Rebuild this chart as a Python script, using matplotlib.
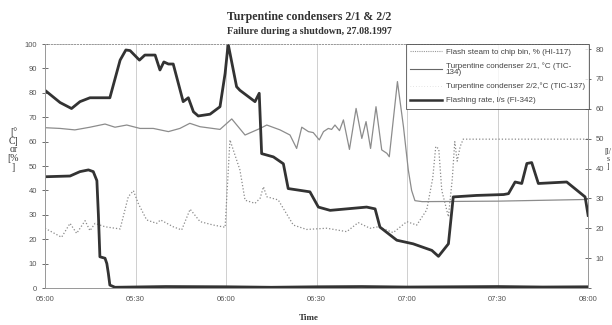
import matplotlib
matplotlib.use("Agg")
import matplotlib.pyplot as plt
from matplotlib.lines import Line2D

# minutes after 05:00
flash_t = [0, 5.5, 8.3, 10.5, 13.3, 14.9, 16.6, 19.9, 24.9, 27.6, 29.3, 30.9, 33.7, 37, 38.3,
           42.5, 45.3, 48.1, 51.4, 55.8, 59.7, 61.3, 64.6, 66.3, 69.6, 71.3, 72.4, 73.5, 77.3,
           82.3, 86.7, 93.4, 100, 103.8, 107.7, 110.5, 115.4, 119.9, 123.2, 126.5, 128.5, 129.5,
           130.5, 131.5, 133.7, 135.0, 135.8, 136.6, 137.6, 138.6, 180]
flash_v = [24.5, 20.8, 26.5, 22.4, 27.6, 23.5, 26.5, 25.1, 24.2, 37.4, 39.9, 34.7, 27.9, 26.5, 27.9,
           25.1, 23.8, 32.3, 27.2, 25.8, 24.9, 60.7, 48.4, 36.0, 34.7, 36.8, 41.5, 37.4, 36.1,
           25.8, 24.0, 24.5, 23.1, 26.8, 24.5, 25.1, 22.7, 27.2, 25.8, 32.0, 45.0, 58.0,
           57.0, 40.0, 29.2, 45.0, 60.0, 52.0, 58.0, 61.0, 61.0]

tic134_t = [0, 5, 9.9, 14.9, 19.9, 23.2, 27.1, 31.5, 35.9, 40.9, 44.7, 48, 51.4, 58, 61.9, 66.3,
            71.3, 73.5, 77.9, 81.2, 83.4, 85.1, 87.3, 88.9, 90.9, 92.3, 93.9, 95, 96.1, 97.6,
            98.9, 100.9, 103.1, 105, 106.4, 107.9, 109.7, 111.6, 113.3, 114.1, 116.8, 118.8,
            120.4, 121.5, 122.6, 125, 150, 180]
tic134_v = [65.7, 65.4, 64.8, 65.9, 67.2, 65.9, 66.8, 65.4, 65.4, 64.1, 65.4, 67.5, 66.1, 65.0,
            69.3, 62.7, 65.4, 66.8, 64.8, 62.7, 57.2, 65.9, 64.1, 63.7, 60.7, 64.1, 65.4, 65.0,
            66.8, 64.5, 68.9, 56.8, 73.6, 61.3, 68.2, 57.2, 74.3, 56.6, 55.2, 53.8, 84.6, 66.1,
            48.4, 40.0, 35.8, 35.4, 35.6, 36.3]

tic137_t = [0, 8.3, 11.6, 14.4, 16, 17.2, 17.7, 18.2, 19.9, 20.5, 21, 21.5, 23.2, 40, 60, 75,
            90, 105, 120, 135, 150, 165, 180]
tic137_v = [45.6, 45.9, 47.7, 48.4, 47.7, 44, 30, 12.8, 12.2, 10, 6, 1.2, 0.3, 0.6, 0.5, 0.3,
            0.5, 0.6, 0.4, 0.5, 0.6, 0.4, 0.5]

# flashing rate, l/s (right axis)
rate_t = [0, 5, 8.8, 11.6, 14.9, 21.5, 24.9, 26.8, 28.2, 31.3, 33.1, 36.5, 38.1, 39.4, 40.9,
          42.5, 45.8, 47.5, 49.2, 50.8, 54.7, 58, 59.7, 60.7, 63.5, 64.6, 69.6, 71, 71.8, 75.7,
          79, 80.6, 87.8, 90.6, 94.5, 106.6, 109.4, 111, 116.6, 122, 128.2, 130.4, 133.7,
          135.3, 143, 152, 153.6, 155.8, 158, 159.7, 161.3, 163.5, 172.9, 176.2, 179, 180]
rate_v = [66.2, 62.1, 60.1, 62.4, 63.7, 63.7, 76.3, 79.7, 79.5, 76.3, 78.0, 78.0, 73.0, 75.7,
          75.0, 75.0, 62.4, 63.7, 59.0, 57.6, 58.2, 60.7, 71.9, 81.7, 67.4, 66.2, 62.4, 65.2,
          45.0, 43.9, 41.6, 33.3, 32.2, 27.1, 26.0, 27.1, 26.5, 20.4, 16.0, 14.8, 12.6, 10.6,
          14.8, 30.5, 31.0, 31.3, 31.6, 35.5, 35.0, 41.7, 42.0, 35.0, 35.5, 32.8, 30.5, 24.3]

time_ticks = [0, 30, 60, 90, 120, 150, 180]
time_labels = ["05:00", "05:30", "06:00", "06:30", "07:00", "07:30", "08:00"]

serif = "Liberation Serif"
sans = "Liberation Sans"
tick_col = "#555555"

fig = plt.figure(figsize=(6.12, 3.25), dpi=100)
ax = fig.add_axes([0.0735, 0.1138, 0.8875, 0.7508])
ax2 = ax.twinx()

ax.plot(flash_t, flash_v, ls=(0, (1, 1.6)), lw=0.9, color="#8a8a8a")
ax.plot(tic134_t, tic134_v, lw=0.9, color="#8c8c8c")
ax.plot(tic137_t, tic137_v, lw=2.0, color="#333333", solid_joinstyle="round")
ax2.plot(rate_t, rate_v, lw=2.0, color="#333333", solid_joinstyle="round")

ax.set_xlim(0, 180)
ax.set_ylim(0, 100)
ax2.set_ylim(0, 81.7)
ax.set_xticks(time_ticks)
ax.set_xticklabels(time_labels)
ax.set_yticks(range(0, 101, 10))
ax2.set_yticks(range(0, 81, 10))
ax2.set_yticklabels([""] + [str(v) for v in range(10, 81, 10)])

for a in (ax, ax2):
    a.tick_params(labelsize=5.5, colors=tick_col, direction="inout", length=4, width=0.6)
    for s in a.spines.values():
        s.set_color("#9a9a9a")
        s.set_linewidth(0.7)
    a.spines["top"].set_linestyle((0, (1, 2)))
    for lab in a.get_xticklabels() + a.get_yticklabels():
        lab.set_family(sans)
ax.tick_params(axis="x", length=0, pad=6)
ax.grid(axis="x", color="#c8c8c8", lw=0.6)
ax2.set_zorder(ax.get_zorder() + 1)
ax2.patch.set_visible(False)

fig.text(0.505, 0.949, "Turpentine condensers 2/1 & 2/2", ha="center", va="center",
         family=serif, weight="bold", fontsize=8.6, color="#333333")
fig.text(0.505, 0.903, "Failure during a shutdown, 27.08.1997", ha="center", va="center",
         family=serif, weight="bold", fontsize=7.2, color="#333333")
fig.text(0.505, 0.022, "Time", ha="center", va="center",
         family=serif, weight="bold", fontsize=6.5, color="#333333")
fig.text(0.022, 0.54, "[°\nC]\nor\n[%\n]", ha="center", va="center", family=serif,
         fontsize=7, color="#333333", linespacing=0.95)
fig.text(0.993, 0.51, "[l/\ns\n]", ha="center", va="center", family=serif,
         fontsize=5.5, color="#333333", linespacing=0.95)

handles = [
    Line2D([], [], ls=(0, (1, 1)), lw=0.8, color="#999999"),
    Line2D([], [], lw=0.8, color="#666666"),
    Line2D([], [], ls=(0, (1, 3)), lw=0.5, color="#cccccc"),
    Line2D([], [], lw=1.8, color="#333333"),
]
labels = [
    "Flash steam to chip bin, % (HI-117)",
    "Turpentine condenser 2/1, °C (TIC-\n134)",
    "Turpentine condenser 2/2,°C (TIC-137)",
    "Flashing rate, l/s (FI-342)",
]
leg = ax2.legend(handles, labels, loc="upper left", bbox_to_anchor=(0.664, 1.0),
                 prop={"family": sans, "size": 5.8}, frameon=True, fancybox=False,
                 borderpad=0.55, labelspacing=0.8, handlelength=4.0, handletextpad=0.4,
                 borderaxespad=0.0)
leg.get_frame().set_edgecolor("#444444")
leg.get_frame().set_linewidth(0.7)
for t in leg.get_texts():
    t.set_color("#444444")
    t.set_linespacing(0.8)

fig.savefig("out.png", dpi=100)
